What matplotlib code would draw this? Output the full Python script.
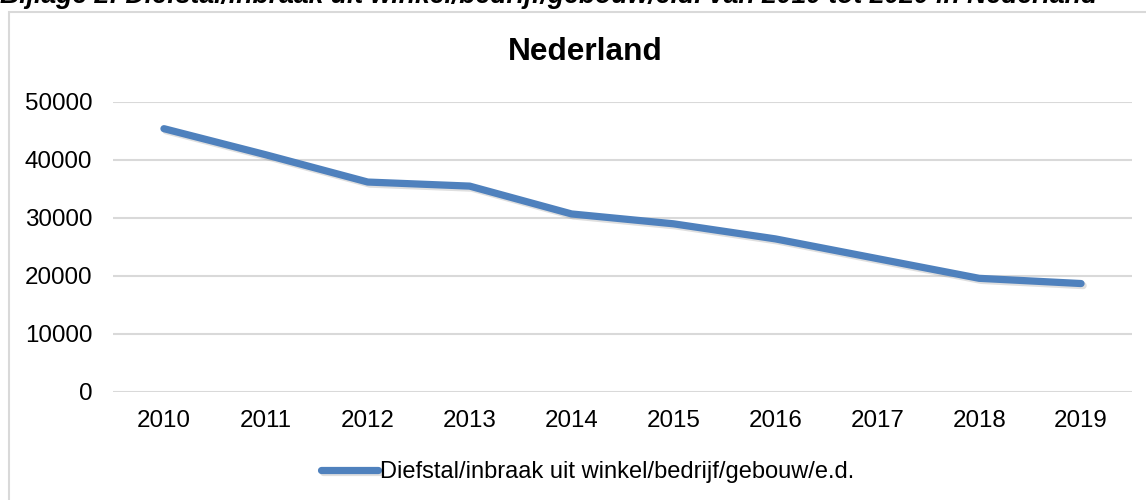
import matplotlib.pyplot as plt
import matplotlib.patheffects as pe
from matplotlib.patches import Rectangle

plt.rcParams["font.family"] = ["Liberation Sans", "DejaVu Sans"]

years = ["2010", "2011", "2012", "2013", "2014", "2015", "2016", "2017", "2018", "2019"]
counts = [45400, 40900, 36200, 35500, 30700, 29000, 26400, 23000, 19600, 18700]
series_name = "Diefstal/inbraak uit winkel/bedrijf/gebouw/e.d."
caption = "Bijlage 2: Diefstal/inbraak uit winkel/bedrijf/gebouw/e.d. van 2010 tot 2020 in Nederland"

W, H = 1146, 500
fig = plt.figure(figsize=(W / 100, H / 100), dpi=100)

# chart frame (right/bottom edges fall outside the crop)
fig.patches.append(Rectangle((8.5 / W, -0.1), 1.2, 1.1 - 12.5 / H,
                             transform=fig.transFigure, fill=False,
                             edgecolor="#d9d9d9", linewidth=1.5, zorder=0))
# caption above the chart, cropped at the top like in the source
fig.text(0.0, 1 - 3 / H, caption, fontsize=19.2, fontweight="bold",
         fontstyle="italic", va="baseline", ha="left")

ax = fig.add_axes([113 / W, (H - 392) / H, (1132 - 113) / W, 290 / H])
x = range(len(years))
ax.plot(x, counts, color="#4F81BD", linewidth=5.2, solid_capstyle="round",
        solid_joinstyle="round", label=series_name,
        path_effects=[pe.SimpleLineShadow(offset=(1.5, -1.5), alpha=0.25, shadow_color="gray"),
                      pe.Normal()])

ax.set_xlim(-0.5, len(years) - 0.5)
ax.set_ylim(0, 50000)
ax.set_yticks(range(0, 50001, 10000))
ax.set_xticks(list(x))
ax.set_xticklabels(years)
ax.grid(axis="y", color="#d9d9d9", linewidth=1.5)
ax.set_axisbelow(True)
for s in ax.spines.values():
    s.set_visible(False)
ax.tick_params(length=0, labelsize=17.4, pad=13)
ax.tick_params(axis="y", pad=15)

fig.text(585 / W, 1 - 52 / H, "Nederland", fontsize=22.8, fontweight="bold",
         ha="center", va="center")

handles, labels = ax.get_legend_handles_labels()
fig.legend(handles, labels, loc="center", bbox_to_anchor=(588 / W, 1 - 472 / H),
           frameon=False, fontsize=17, handlelength=2.4, handletextpad=0.1)

fig.savefig("out.png", dpi=100)
